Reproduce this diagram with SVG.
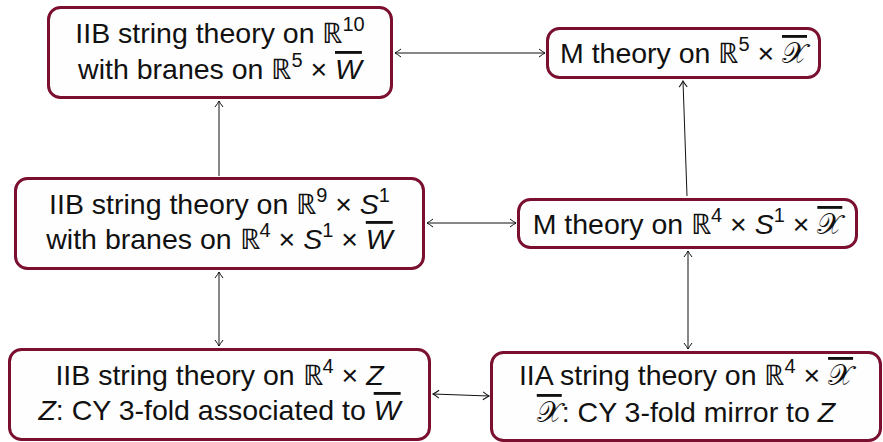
<svg xmlns="http://www.w3.org/2000/svg" width="883" height="442" viewBox="0 0 883 442">
<style>
.box{fill:#fefefe;stroke:#7a0f30;stroke-width:3}
.t{font-family:"Liberation Sans",Arial,sans-serif;font-size:28.5px;fill:#111;text-anchor:middle}
.sup{font-size:20px}
.i{font-style:italic}
.ol{text-decoration:overline}
.c{stroke:#111;stroke-width:1;fill:none;marker-start:url(#ah);marker-end:url(#ah)}
.c1{stroke:#111;stroke-width:1;fill:none;marker-end:url(#ah)}
</style>
<defs>
<marker id="ah" viewBox="-8 -5 10 10" refX="0" refY="0" markerWidth="10" markerHeight="10" markerUnits="userSpaceOnUse" orient="auto-start-reverse">
<path d="M-6,-4 Q-2,-1 0,0 Q-2,1 -6,4" fill="none" stroke="#111" stroke-width="1"/>
</marker>
</defs>
<g id="connectors">
<path class="c" d="M395,53 L545,53"/>
<path class="c1" d="M219,176 L219,101"/>
<path class="c1" d="M687,196 L683,81"/>
<path class="c" d="M427,223 L516,223"/>
<path class="c" d="M219,272 L219,346"/>
<path class="c" d="M688,251 L688,349"/>
<path class="c" d="M433,394 L489,396"/>
</g>
<g id="n1">
<rect class="box" x="48.5" y="7.5" width="343" height="90" rx="12"/>
<text class="t" x="220" y="43">IIB string theory on ℝ<tspan class="sup" dy="-12">10</tspan></text>
<text class="t" x="220" y="79">with branes on ℝ<tspan class="sup" dy="-12">5</tspan><tspan dy="12"> × </tspan><tspan class="i ol">W</tspan></text>
</g>
<g id="n2">
<rect class="box" x="547.5" y="28.5" width="272" height="49" rx="12"/>
<text class="t" x="683.5" y="63">M theory on ℝ<tspan class="sup" dy="-12">5</tspan><tspan dy="12"> × </tspan><tspan class="ol">𝒳</tspan></text>
</g>
<g id="n3">
<rect class="box" x="15.5" y="178.5" width="408" height="90" rx="12"/>
<text class="t" x="219.5" y="214">IIB string theory on ℝ<tspan class="sup" dy="-12">9</tspan><tspan dy="12"> × </tspan><tspan class="i">S</tspan><tspan class="sup" dy="-12">1</tspan></text>
<text class="t" x="219.5" y="249">with branes on ℝ<tspan class="sup" dy="-12">4</tspan><tspan dy="12"> × </tspan><tspan class="i">S</tspan><tspan class="sup" dy="-12">1</tspan><tspan dy="12"> × </tspan><tspan class="i ol">W</tspan></text>
</g>
<g id="n4">
<rect class="box" x="518.5" y="199.5" width="338" height="48" rx="12"/>
<text class="t" x="687.5" y="234">M theory on ℝ<tspan class="sup" dy="-12">4</tspan><tspan dy="12"> × </tspan><tspan class="i">S</tspan><tspan class="sup" dy="-12">1</tspan><tspan dy="12"> × </tspan><tspan class="ol">𝒳</tspan></text>
</g>
<g id="n5">
<rect class="box" x="9.5" y="349.5" width="420" height="90" rx="12"/>
<text class="t" x="219.5" y="385">IIB string theory on ℝ<tspan class="sup" dy="-12">4</tspan><tspan dy="12"> × </tspan><tspan class="i">Z</tspan></text>
<text class="t" x="219.5" y="420"><tspan class="i">Z</tspan>: CY 3-fold associated to <tspan class="i ol">W</tspan></text>
</g>
<g id="n6">
<rect class="box" x="491.5" y="352.5" width="389" height="88" rx="12"/>
<text class="t" x="686" y="385">IIA string theory on ℝ<tspan class="sup" dy="-12">4</tspan><tspan dy="12"> × </tspan><tspan class="ol">𝒳</tspan></text>
<text class="t" x="686" y="422"><tspan class="ol">𝒳</tspan>: CY 3-fold mirror to <tspan class="i">Z</tspan></text>
</g>
</svg>
